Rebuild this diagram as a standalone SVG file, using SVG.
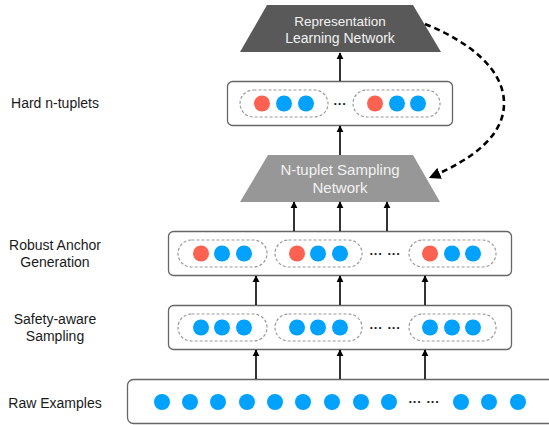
<svg xmlns="http://www.w3.org/2000/svg" width="549" height="425" viewBox="0 0 549 425">
<defs>
<style>
.lbl{font-family:"Liberation Sans",Arial,sans-serif;font-size:14px;fill:#1a1a1a;text-anchor:middle}
.ttl{font-family:"Liberation Sans",Arial,sans-serif;fill:#f2f2f2;text-anchor:middle}
.box{fill:#fff;stroke:#666;stroke-width:1.3}
.pill{fill:none;stroke:#9a9a9a;stroke-width:1.2;stroke-dasharray:3 2}
.r{fill:#fd6150}
.b{fill:#00a2fd}
.dots{font-family:"Liberation Sans",Arial,sans-serif;font-size:13px;font-weight:bold;fill:#1a1a1a;text-anchor:middle}
.arr{stroke:#000;stroke-width:1.6;fill:none;marker-end:url(#ah)}
</style>
<marker id="ah" viewBox="0 0 10 10" refX="9" refY="5" markerWidth="4.5" markerHeight="4.5" orient="auto" markerUnits="strokeWidth">
<path d="M0,0 L10,5 L0,10 z" fill="#000"/>
</marker>
<marker id="ahd" viewBox="0 0 10 10" refX="8" refY="5" markerWidth="4.5" markerHeight="4.5" orient="auto" markerUnits="strokeWidth">
<path d="M0,0 L10,5 L0,10 z" fill="#000"/>
</marker>
</defs>

<g id="labels">
<text class="lbl" x="55" y="108">Hard n-tuplets</text>
<text class="lbl" x="55" y="250">Robust Anchor</text>
<text class="lbl" x="55" y="267">Generation</text>
<text class="lbl" x="55" y="324">Safety-aware</text>
<text class="lbl" x="55" y="341">Sampling</text>
<text class="lbl" x="55" y="408">Raw Examples</text>
</g>

<g id="representation-network">
<polygon points="267,5 413,5 441,52 240,52" fill="#595959"/>
<text class="ttl" x="340" y="26" font-size="13.5">Representation</text>
<text class="ttl" x="340" y="43" font-size="14">Learning Network</text>
</g>

<g id="hard-ntuplets">
<rect class="box" x="227.5" y="81.5" width="225" height="44" rx="5"/>
<rect class="pill" x="240" y="90" width="88" height="27" rx="13.5"/>
<circle class="r" cx="262" cy="103.5" r="8"/>
<circle class="b" cx="284" cy="103.5" r="8"/>
<circle class="b" cx="306" cy="103.5" r="8"/>
<text class="dots" x="340" y="108">···</text>
<rect class="pill" x="353" y="90" width="87" height="27" rx="13.5"/>
<circle class="r" cx="375" cy="103.5" r="8"/>
<circle class="b" cx="397" cy="103.5" r="8"/>
<circle class="b" cx="418" cy="103.5" r="8"/>
</g>

<g id="ntuplet-sampling-network">
<polygon points="268,155 413,155 440,202 240,202" fill="#979797"/>
<text class="ttl" x="340" y="175" font-size="15">N-tuplet Sampling</text>
<text class="ttl" x="340" y="193" font-size="15">Network</text>
</g>

<g id="robust-anchor">
<rect class="box" x="168.5" y="231.5" width="343" height="44" rx="5"/>
<rect class="pill" x="178" y="240" width="89" height="27" rx="13.5"/>
<circle class="r" cx="201" cy="253.5" r="8"/>
<circle class="b" cx="222" cy="253.5" r="8"/>
<circle class="b" cx="244" cy="253.5" r="8"/>
<rect class="pill" x="275" y="240" width="87" height="27" rx="13.5"/>
<circle class="r" cx="297" cy="253.5" r="8"/>
<circle class="b" cx="318" cy="253.5" r="8"/>
<circle class="b" cx="340" cy="253.5" r="8"/>
<text class="dots" x="376" y="258">···</text>
<text class="dots" x="394" y="258">···</text>
<rect class="pill" x="409" y="240" width="87" height="27" rx="13.5"/>
<circle class="r" cx="430" cy="253.5" r="8"/>
<circle class="b" cx="452" cy="253.5" r="8"/>
<circle class="b" cx="473" cy="253.5" r="8"/>
</g>

<g id="safety-aware">
<rect class="box" x="168.5" y="305.5" width="343" height="44" rx="5"/>
<rect class="pill" x="178" y="314" width="89" height="27" rx="13.5"/>
<circle class="b" cx="201" cy="327.5" r="8"/>
<circle class="b" cx="222" cy="327.5" r="8"/>
<circle class="b" cx="244" cy="327.5" r="8"/>
<rect class="pill" x="275" y="314" width="87" height="27" rx="13.5"/>
<circle class="b" cx="297" cy="327.5" r="8"/>
<circle class="b" cx="318" cy="327.5" r="8"/>
<circle class="b" cx="340" cy="327.5" r="8"/>
<text class="dots" x="376" y="332">···</text>
<text class="dots" x="394" y="332">···</text>
<rect class="pill" x="409" y="314" width="87" height="27" rx="13.5"/>
<circle class="b" cx="430" cy="327.5" r="8"/>
<circle class="b" cx="452" cy="327.5" r="8"/>
<circle class="b" cx="473" cy="327.5" r="8"/>
</g>

<g id="raw-examples">
<rect class="box" x="127.5" y="379.5" width="440" height="44" rx="6"/>
<circle class="b" cx="162" cy="402" r="8"/>
<circle class="b" cx="190" cy="402" r="8"/>
<circle class="b" cx="218" cy="402" r="8"/>
<circle class="b" cx="247" cy="402" r="8"/>
<circle class="b" cx="275" cy="402" r="8"/>
<circle class="b" cx="303" cy="402" r="8"/>
<circle class="b" cx="332" cy="402" r="8"/>
<circle class="b" cx="361" cy="402" r="8"/>
<circle class="b" cx="389" cy="402" r="8"/>
<text class="dots" x="415" y="406">···</text>
<text class="dots" x="433" y="406">···</text>
<circle class="b" cx="461" cy="402" r="8"/>
<circle class="b" cx="489" cy="402" r="8"/>
<circle class="b" cx="518" cy="402" r="8"/>
</g>

<g id="connectors">
<line class="arr" x1="340" y1="81" x2="340" y2="53"/>
<line class="arr" x1="340" y1="155" x2="340" y2="126"/>
<line class="arr" x1="294" y1="231" x2="294" y2="202"/>
<line class="arr" x1="340" y1="231" x2="340" y2="202"/>
<line class="arr" x1="387" y1="231" x2="387" y2="202"/>
<line class="arr" x1="256" y1="305" x2="256" y2="276"/>
<line class="arr" x1="340" y1="305" x2="340" y2="276"/>
<line class="arr" x1="425" y1="305" x2="425" y2="276"/>
<line class="arr" x1="256" y1="379" x2="256" y2="350"/>
<line class="arr" x1="340" y1="379" x2="340" y2="350"/>
<line class="arr" x1="425" y1="379" x2="425" y2="350"/>
<path d="M425,24 C470,42 505,70 504,105 C503,135 475,158 431,177" fill="none" stroke="#000" stroke-width="2.6" stroke-dasharray="6 4" marker-end="url(#ahd)"/>
</g>
</svg>
